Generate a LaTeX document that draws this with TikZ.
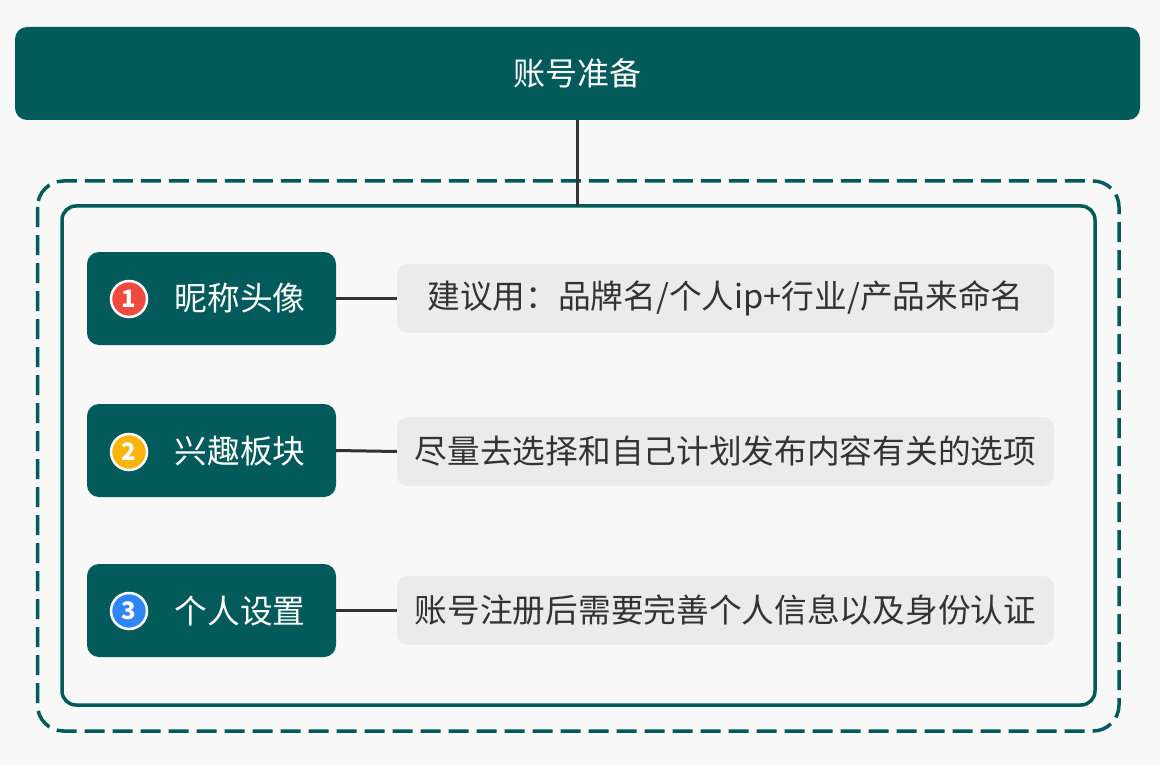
\documentclass[tikz,border=0pt]{standalone}
\usepackage{fontspec}
\setmainfont{Noto Sans CJK SC}
\definecolor{bg}{HTML}{F8F8F8}
\definecolor{teal}{HTML}{035A5A}
\definecolor{lightbox}{HTML}{EBEBEB}
\definecolor{txtdark}{HTML}{333333}
\definecolor{cred}{HTML}{F04A3E}
\definecolor{corange}{HTML}{FBB40A}
\definecolor{cblue}{HTML}{2F85F5}
\tikzset{
  headbox/.style={fill=teal, rounded corners=12pt, draw=none},
  itembox/.style={fill=teal, rounded corners=12pt, draw=none, minimum width=249pt, minimum height=93pt, inner sep=0pt},
  descbox/.style={fill=lightbox, rounded corners=11pt, draw=none, minimum width=657pt, minimum height=69pt, inner sep=0pt, text=txtdark, font=\fontsize{32.7}{38}\selectfont},
  itemtext/.style={text=white, font=\fontsize{32.7}{38}\selectfont, inner sep=0pt},
  numcirc/.style={circle, draw=white, line width=2.5pt, minimum size=36pt, inner sep=0pt, text=white, font=\bfseries\fontsize{24}{26}\selectfont},
  link/.style={draw=txtdark, line width=3pt},
}
\begin{document}
\begin{tikzpicture}[x=1pt,y=-1pt]
\useasboundingbox (0,0) rectangle (1160,765);
\fill[bg] (0,0) rectangle (1160,765);
% header
\node[headbox, minimum width=1125pt, minimum height=93pt, inner sep=0pt] (head) at (577.5,73.5) {};
\node[itemtext, font=\fontsize{32}{38}\selectfont] (headtxt) at (577,73.5) {账号准备};
% frames
\draw[teal, line width=3.5pt, dash pattern=on 20pt off 8pt, rounded corners=26pt] (37.5,181) rectangle (1119,731) ;
\node[draw=teal, line width=3.5pt, rounded corners=14pt, minimum width=1033pt, minimum height=499pt, inner sep=0pt] (frame) at (578.5,455.5) {};
\coordinate (ftop) at (577,206);
\draw[link] (head.south -| ftop) -- (ftop);
% items
\node[itembox] (i1) at (211.5,298.5) {};
\node[itembox] (i2) at (211.5,450.5) {};
\node[itembox] (i3) at (211.5,610.5) {};
\node[numcirc, fill=cred] (c1) at (129,299) {1};
\node[numcirc, fill=corange] (c2) at (129,452) {2};
\node[numcirc, fill=cblue] (c3) at (129,611) {3};
\node[itemtext] (t1) at (240,298.5) {昵称头像};
\node[itemtext] (t2) at (240,451) {兴趣板块};
\node[itemtext] (t3) at (240,611) {个人设置};
% descriptions
\node[descbox] (d1) at (725.5,298.5) {建议用：品牌名/个人ip+行业/产品来命名};
\node[descbox] (d2) at (725.5,451.5) {尽量去选择和自己计划发布内容有关的选项};
\node[descbox] (d3) at (725.5,610.5) {账号注册后需要完善个人信息以及身份认证};
\draw[link] (i1.east) -- (d1.west);
\draw[link] (i2.east) -- (d2.west);
\draw[link] (i3.east) -- (d3.west);
\end{tikzpicture}
\end{document}
